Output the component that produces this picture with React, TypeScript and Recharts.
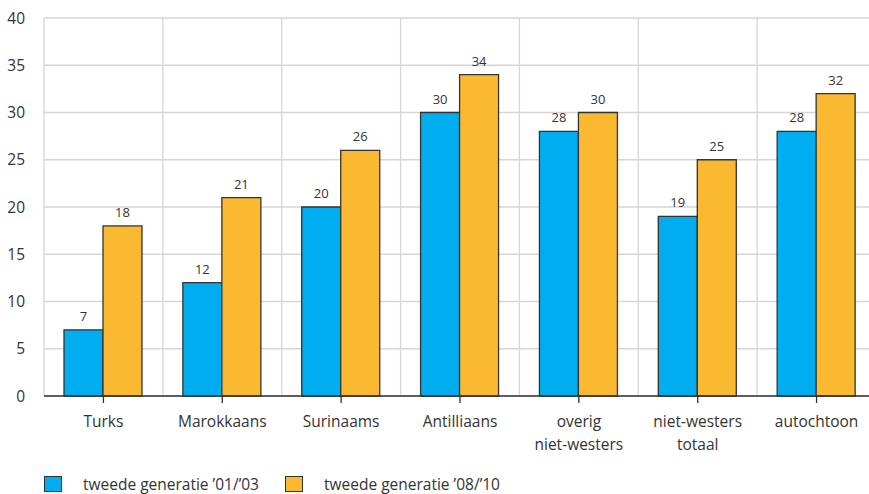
import { BarChart, Bar, XAxis, YAxis, CartesianGrid, LabelList } from 'recharts'

const categories = ['Turks', 'Marokkaans', 'Surinaams', 'Antilliaans', 'overig\nniet-westers', 'niet-westers\ntotaal', 'autochtoon']
const gen0103 = [7, 12, 20, 30, 28, 19, 28]
const gen0810 = [18, 21, 26, 34, 30, 25, 32]
const yTicks = [0, 5, 10, 15, 20, 25, 30, 35, 40]
const seriesNames = ['tweede generatie ’01/’03', 'tweede generatie ’08/’10']

const BLUE = '#00aeef'
const ORANGE = '#fbb931'
const TEXT = '#333333'
const FONT = '"Open Sans", sans-serif'

const data = categories.map((c, i) => ({ cat: c, a: gen0103[i], b: gen0810[i] }))

const CatTick = ({ x, y, payload }: any) => {
  const lines = String(payload.value).split('\n')
  return (
    <text x={x} y={y} textAnchor="middle" fill={TEXT} fontSize={15.5} fontFamily={FONT}>
      {lines.map((l, i) => (
        <tspan key={i} x={x} dy={i === 0 ? 22 : 23}>{l}</tspan>
      ))}
    </text>
  )
}

export default function App() {
  return (
    <div style={{ position: 'absolute', left: 0, top: 0, width: 869, height: 494, overflow: 'hidden', background: '#fff' }}>
      <BarChart
        width={900}
        height={494}
        data={data}
        margin={{ top: 18, right: 24, left: 0, bottom: 0 }}
        barCategoryGap={20}
        barGap={0}
      >
        <CartesianGrid
          stroke="#d6d6d6"
          strokeWidth={1.3}
          verticalCoordinatesGenerator={({ offset }: any) => {
            const step = offset.width / categories.length
            return categories.map((_, i) => offset.left + i * step).concat(offset.left + offset.width)
          }}
        />
        <XAxis
          dataKey="cat"
          height={98}
          interval={0}
          tickSize={7}
          tickMargin={2}
          axisLine={{ stroke: TEXT, strokeWidth: 1.3 }}
          tickLine={{ stroke: TEXT, strokeWidth: 1.3 }}
          tick={<CatTick />}
        />
        <YAxis
          width={44}
          domain={[0, 40]}
          ticks={yTicks}
          axisLine={false}
          tickLine={false}
          tickMargin={13}
          tick={{ fill: TEXT, fontSize: 15.5, fontFamily: FONT }}
        />
        <Bar dataKey="a" fill={BLUE} stroke={TEXT} strokeWidth={1.3} isAnimationActive={false}>
          <LabelList dataKey="a" position="top" offset={9} fill={TEXT} fontSize={13} fontFamily={FONT} />
        </Bar>
        <Bar dataKey="b" fill={ORANGE} stroke={TEXT} strokeWidth={1.3} isAnimationActive={false}>
          <LabelList dataKey="b" position="top" offset={9} fill={TEXT} fontSize={13} fontFamily={FONT} />
        </Bar>
      </BarChart>
      {[BLUE, ORANGE].map((c, i) => (
        <div key={i} style={{ position: 'absolute', top: 474, height: 20, left: i === 0 ? 44 : 285, display: 'flex', alignItems: 'center', fontFamily: FONT, fontSize: 15.5, lineHeight: '18px', color: TEXT }}>
          <span style={{ display: 'inline-block', width: 16, height: 14, background: c, border: `1.3px solid ${TEXT}`, marginRight: 21 }} />
          <span>{seriesNames[i]}</span>
        </div>
      ))}
    </div>
  )
}
